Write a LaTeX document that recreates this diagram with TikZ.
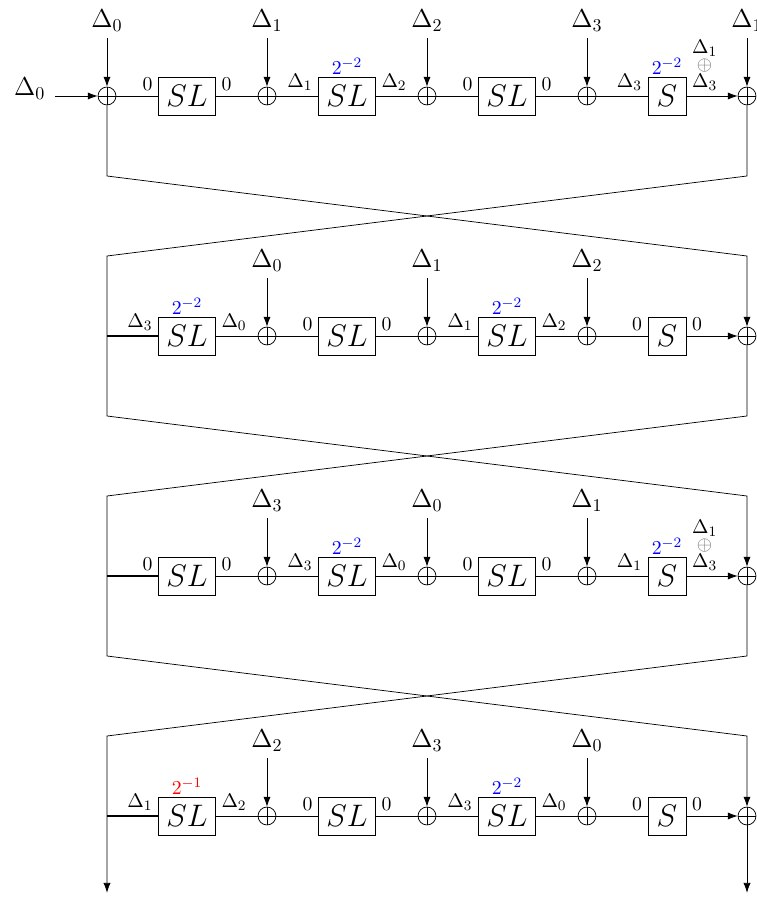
\documentclass[tikz,border=0pt]{standalone}
\usetikzlibrary{positioning,arrows.meta}
\begin{document}
\begin{tikzpicture}[x=0.781cm, y=0.781cm,
  arr/.style={-{Latex[length=5.5pt,width=4pt]}},
  xorn/.style={circle, draw, minimum size=0.35cm, inner sep=0pt, fill=white,
    path picture={\draw (path picture bounding box.north) -- (path picture bounding box.south)
      (path picture bounding box.west) -- (path picture bounding box.east);}},
  slbox/.style={draw, minimum width=1.11cm, minimum height=0.74cm, font=\fontsize{16}{19}\selectfont},
  sbox/.style={draw, minimum width=0.74cm, minimum height=0.74cm, font=\fontsize{16}{19}\selectfont},
  toplbl/.style={font=\Large},
  pow/.style={inner sep=0pt, text=blue, font=\fontsize{11}{13}\selectfont},
  lbl/.style={font=\fontsize{11}{13}\selectfont, inner sep=3pt}]
  \useasboundingbox (-2.675,2.4) rectangle (16.225,-20.05);
  % four rounds
  \foreach \r/\ka/\kb/\kc/\ua/\ub/\uc/\ud/\ue/\uf/\ug in {
      0/1/2/3/0/0/\Delta_1/\Delta_2/0/0/\Delta_3,
      1/0/1/2/\Delta_3/\Delta_0/0/0/\Delta_1/\Delta_2/0,
      2/3/0/1/0/0/\Delta_3/\Delta_0/0/0/\Delta_1,
      3/2/3/0/\Delta_1/\Delta_2/0/0/\Delta_3/\Delta_0/0}{
    \node[slbox] (sa\r) at (2,-6*\r) {$SL$};
    \node[slbox] (sb\r) at (6,-6*\r) {$SL$};
    \node[slbox] (sc\r) at (10,-6*\r) {$SL$};
    \node[sbox] (sd\r) at (14,-6*\r) {$S$};
    \node[xorn] (x1\r) at (4,-6*\r) {};
    \node[xorn] (x2\r) at (8,-6*\r) {};
    \node[xorn] (x3\r) at (12,-6*\r) {};
    \node[xorn] (x4\r) at (16,-6*\r) {};
    \draw (sa\r) -- (x1\r) -- (sb\r) -- (x2\r) -- (sc\r) -- (x3\r) -- (sd\r);
    \draw[arr] (sd\r) -- (x4\r);
    % key inputs
    \coordinate (k1\r) at (4,-6*\r+1.45);
    \coordinate (k2\r) at (8,-6*\r+1.45);
    \coordinate (k3\r) at (12,-6*\r+1.45);
    \node[toplbl, above=0pt of k1\r] (t1\r) {$\Delta_\ka$};
    \node[toplbl, above=0pt of k2\r] (t2\r) {$\Delta_\kb$};
    \node[toplbl, above=0pt of k3\r] (t3\r) {$\Delta_\kc$};
    \draw[arr] (k1\r) -- (x1\r);
    \draw[arr] (k2\r) -- (x2\r);
    \draw[arr] (k3\r) -- (x3\r);
    % differences on the wires
    \node[lbl, anchor=south east] (la\r) at (sa\r.west) {$\ua$};
    \node[lbl, anchor=south west] (ra\r) at (sa\r.east) {$\ub$};
    \node[lbl, anchor=south east] (lb\r) at (sb\r.west) {$\uc$};
    \node[lbl, anchor=south west] (rb\r) at (sb\r.east) {$\ud$};
    \node[lbl, anchor=south east] (lc\r) at (sc\r.west) {$\ue$};
    \node[lbl, anchor=south west] (rc\r) at (sc\r.east) {$\uf$};
    \node[lbl, anchor=south east] (ld\r) at (sd\r.west) {$\ug$};
  }
  % first round input
  \node[xorn] (x00) at (0,0) {};
  \coordinate (inp) at (-1.3,0);
  \node[toplbl, anchor=base east] (dinp) at (-1.385,0) {$\Delta_0$};
  \draw[arr] (inp) -- (x00);
  \draw (x00) -- (sa0);
  \coordinate (k00) at (0,1.45);
  \coordinate (k40) at (16,1.45);
  \node[toplbl, above=0pt of k00] (t00) {$\Delta_0$};
  \node[toplbl, above=0pt of k40] (t40) {$\Delta_1$};
  \draw[arr] (k00) -- (x00);
  \draw[arr] (k40) -- (x40);
  % right hand outputs of S
  \node[lbl, anchor=south west, align=center] (rd0) at (sd0.east) {$\Delta_1$\\[-3.6pt]{\color{black!55}$\oplus$}\\[-3.6pt]$\Delta_3$};
  \node[lbl, anchor=south west] (rd1) at (sd1.east) {$0$};
  \node[lbl, anchor=south west, align=center] (rd2) at (sd2.east) {$\Delta_1$\\[-3.6pt]{\color{black!55}$\oplus$}\\[-3.6pt]$\Delta_3$};
  \node[lbl, anchor=south west] (rd3) at (sd3.east) {$0$};
  % probabilities
  \node[pow, above=1pt of sb0] (p0) {$2^{-2}$};
  \node[pow, above=1pt of sd0] (p1) {$2^{-2}$};
  \node[pow, above=1pt of sa1] (p2) {$2^{-2}$};
  \node[pow, above=1pt of sc1] (p3) {$2^{-2}$};
  \node[pow, above=1pt of sb2] (p4) {$2^{-2}$};
  \node[pow, above=1pt of sd2] (p5) {$2^{-2}$};
  \node[pow, above=1pt of sa3, text=red] (p6) {$2^{-1}$};
  \node[pow, above=1pt of sc3] (p7) {$2^{-2}$};
  % branches into the next rounds
  \coordinate (w1) at (0,-6);
  \coordinate (w2) at (0,-12);
  \coordinate (w3) at (0,-18);
  \draw[thick] (w1) -- (sa1);
  \draw[thick] (w2) -- (sa2);
  \draw[thick] (w3) -- (sa3);
  \coordinate (outl) at (0,-19.92);
  \coordinate (outr) at (16,-19.92);
  \draw[arr] (x00) -- (0,-2) -- (16,-4) -- (x41);
  \draw[arr] (x40) -- (16,-2) -- (0,-4) -- (w1) -- (0,-8) -- (16,-10) -- (x42);
  \draw[arr] (x41) -- (16,-8) -- (0,-10) -- (w2) -- (0,-14) -- (16,-16) -- (x43);
  \draw[arr] (x42) -- (16,-14) -- (0,-16) -- (w3) -- (outl);
  \draw[arr] (x43) -- (outr);
\end{tikzpicture}
\end{document}
